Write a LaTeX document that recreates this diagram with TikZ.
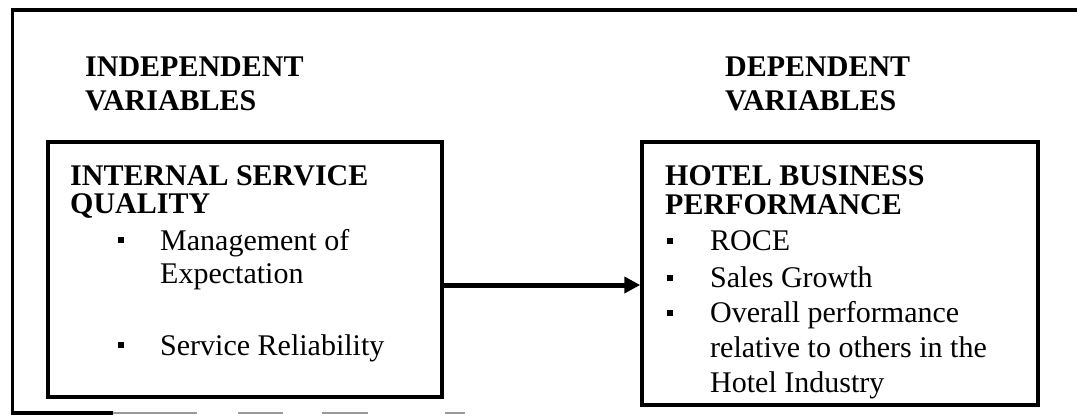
\documentclass[tikz,border=0pt]{standalone}
\usepackage{fontspec}
\setmainfont{Liberation Serif}
\usetikzlibrary{arrows.meta}
\tikzset{
  frameline/.style={line width=3.5pt},
  boxframe/.style={draw, line width=3.5pt, rectangle, inner sep=0pt},
  txt/.style={anchor=base west, inner sep=0pt, font=\fontsize{30}{34}\selectfont},
  head/.style={txt, font=\fontsize{30}{34}\selectfont\bfseries},
  bul/.style={fill=black, rectangle, minimum size=6pt, inner sep=0pt},
  link/.style={line width=5pt, -{Triangle[length=16pt,width=16pt]}},
  faded/.style={line width=2pt, draw=black!40}
}
\begin{document}
\begin{tikzpicture}[x=1pt,y=-1pt]
\useasboundingbox (0,0) rectangle (1077,415);
% outer frame (open on the right)
\coordinate (otr) at (1077,10);
\coordinate (otl) at (12.5,10);
\coordinate (obl) at (12.5,413);
\coordinate (obm) at (113,413);
\draw[frameline] (otr) -- (otl) -- (obl) -- (obm);
\draw[faded] (113,413) -- (197,413);
\draw[faded] (238,413) -- (283,413);
\draw[faded] (322,413) -- (368,413);
\draw[faded] (445,413) -- (465,413);
% boxes
\node[boxframe, minimum width=394pt, minimum height=255pt] (lbox) at (245,269.5) {};
\node[boxframe, minimum width=396pt, minimum height=263pt] (rbox) at (840,273.5) {};
% connector
\coordinate (arr) at (0,285);
\draw[link] (lbox.east |- arr) -- (rbox.west |- arr);
% headings
\node[head] (ind1) at (85,76) {INDEPENDENT};
\node[head] (ind2) at (85,110) {VARIABLES};
\node[head] (dep1) at (725,76) {DEPENDENT};
\node[head] (dep2) at (725,110) {VARIABLES};
% left box text
\node[head] (lt1) at (70,185) {INTERNAL SERVICE};
\node[head] (lt2) at (70,213) {QUALITY};
\node[bul] (lb1) at (121,240) {};
\node[txt] (li1) at (160,250) {Management of};
\node[txt] (li1b) at (160,283) {Expectation};
\node[bul] (lb2) at (121,345) {};
\node[txt] (li2) at (160,355) {Service Reliability};
% right box text
\node[head] (rt1) at (665,185) {HOTEL BUSINESS};
\node[head] (rt2) at (665,214) {PERFORMANCE};
\node[bul] (rb1) at (670,241) {};
\node[txt] (ri1) at (710,250) {ROCE};
\node[bul] (rb2) at (670,278) {};
\node[txt] (ri2) at (710,287) {Sales Growth};
\node[bul] (rb3) at (670,313) {};
\node[txt] (ri3) at (710,322) {Overall performance};
\node[txt] (ri3b) at (710,357) {relative to others in the};
\node[txt] (ri3c) at (710,392) {Hotel Industry};
\end{tikzpicture}
\end{document}
